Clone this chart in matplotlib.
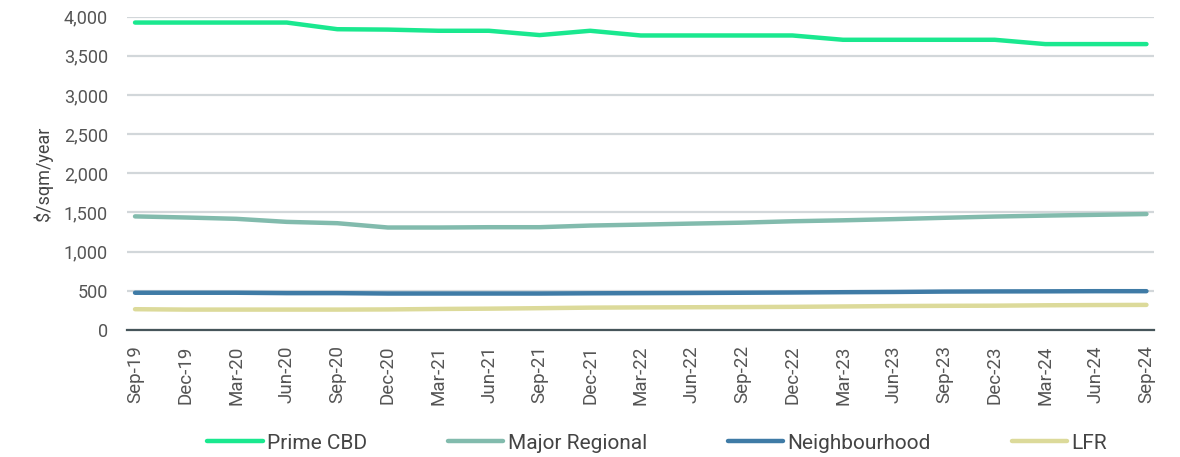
import matplotlib
matplotlib.use("Agg")
import matplotlib.pyplot as plt
from matplotlib.ticker import FuncFormatter

plt.rcParams['font.family'] = ['Roboto', 'DejaVu Sans']

# quarterly rents, $/sqm/year
quarters = ['Sep-19', 'Dec-19', 'Mar-20', 'Jun-20', 'Sep-20', 'Dec-20', 'Mar-21',
            'Jun-21', 'Sep-21', 'Dec-21', 'Mar-22', 'Jun-22', 'Sep-22', 'Dec-22',
            'Mar-23', 'Jun-23', 'Sep-23', 'Dec-23', 'Mar-24', 'Jun-24', 'Sep-24']
prime_cbd = [3925, 3925, 3925, 3925, 3840, 3835, 3820, 3820, 3765, 3820, 3760,
             3760, 3760, 3760, 3705, 3705, 3705, 3705, 3650, 3650, 3650]
major_regional = [1450, 1436, 1419, 1380, 1363, 1308, 1308, 1312, 1312, 1333, 1345,
                  1358, 1370, 1388, 1400, 1415, 1432, 1448, 1460, 1470, 1480]
neighbourhood = [475, 475, 475, 470, 470, 465, 465, 465, 465, 468, 470,
                 472, 475, 478, 482, 485, 490, 492, 493, 495, 495]
lfr = [265, 260, 260, 260, 260, 262, 268, 272, 278, 285, 288,
       290, 292, 295, 300, 305, 308, 310, 315, 318, 320]

series = [
    ('Prime CBD', prime_cbd, '#1AE88F'),
    ('Major Regional', major_regional, '#82BBAD'),
    ('Neighbourhood', neighbourhood, '#3F7BA6'),
    ('LFR', lfr, '#DCDA9A'),
]

fig = plt.figure(figsize=(11.8, 4.57), dpi=100)
ax = fig.add_axes([0.108, 0.278, 0.870, 0.6855])

x = list(range(len(quarters)))
for name, vals, col in series:
    ax.plot(x, vals, color=col, lw=3.2, label=name, solid_capstyle='round')

ax.set_xlim(-0.15, len(quarters) - 1 + 0.15)
ax.set_ylim(0, 4000)
ax.set_yticks(range(0, 4001, 500))
ax.yaxis.set_major_formatter(FuncFormatter(lambda v, p: f'{int(v):,}'))
ax.set_xticks(x)
ax.set_xticklabels(quarters, rotation=90)

ax.grid(axis='y', color='#D2D7DA', lw=1.6)
ax.set_axisbelow(True)
for s in ['top', 'right', 'left']:
    ax.spines[s].set_visible(False)
ax.spines['bottom'].set_color('#46555A')
ax.spines['bottom'].set_linewidth(1.6)
ax.spines['bottom'].set_zorder(3)

ax.tick_params(axis='y', length=0, pad=14, labelsize=13, labelcolor='#555555')
ax.tick_params(axis='x', length=0, pad=11, labelsize=13.5, labelcolor='#555555')
ax.set_ylabel('$/sqm/year', fontsize=13, color='#444444', labelpad=8)

fig.legend(loc='center', bbox_to_anchor=(0.557, 0.03), ncol=4, frameon=False,
           fontsize=15, handlelength=2.65, handletextpad=0.2, columnspacing=3.9,
           labelcolor='#444444')

fig.savefig('out.png', dpi=100)
